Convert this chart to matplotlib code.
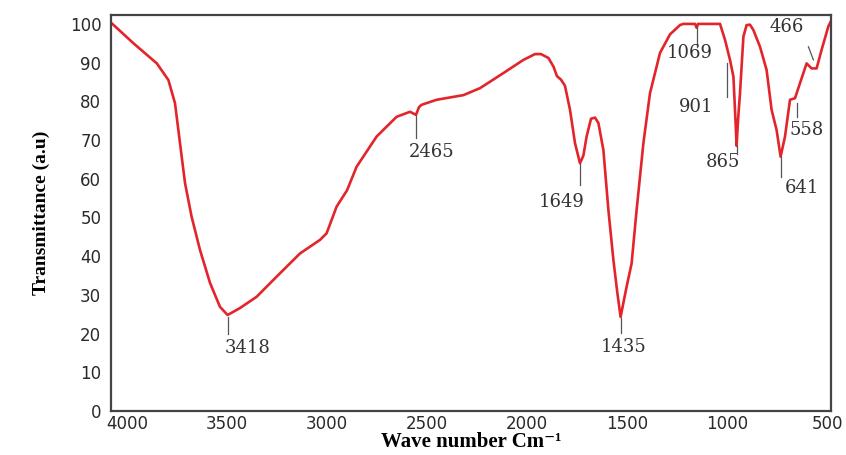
import matplotlib
matplotlib.use("Agg")
import matplotlib.pyplot as plt

# Spectrum (wavenumber, transmittance)
wavenumber = [4073, 3970, 3851, 3793, 3760, 3735, 3710, 3677, 3635, 3585, 3535, 3497,
              3435, 3352, 3252, 3135, 3035, 3002, 2952, 2900, 2852, 2752, 2652, 2585,
              2555, 2540, 2527, 2452, 2318, 2235, 2118, 2018, 1960, 1930, 1893, 1868,
              1850, 1830, 1810, 1785, 1760, 1735, 1718, 1702, 1680, 1660, 1643, 1618,
              1593, 1568, 1548, 1532, 1502, 1477, 1452, 1418, 1385, 1335, 1285, 1235,
              1218, 1160, 1152, 1145, 1035, 1010, 985, 968, 960, 952, 945, 935, 918,
              902, 885, 868, 835, 802, 777, 752, 732, 710, 685, 660, 635, 602, 577,
              552, 527, 493, 482]
transmittance = [100, 95.1, 89.8, 85.5, 79.5, 69.2, 58.9, 50.2, 41.6, 33.1, 26.9, 24.8,
                 26.6, 29.5, 34.7, 40.7, 44.2, 45.9, 52.8, 57.0, 63.1, 70.9, 76.0, 77.3,
                 76.5, 78.5, 79.1, 80.4, 81.6, 83.4, 87.3, 90.7, 92.2, 92.2, 91.2, 89.0,
                 86.5, 85.6, 84.0, 77.8, 69.2, 64.0, 66.0, 70.9, 75.5, 75.8, 74.4, 67.4,
                 51.9, 39.0, 30.4, 24.3, 32.1, 38.1, 51.9, 69.2, 82.1, 92.5, 97.3, 99.7,
                 100, 100, 99.0, 100, 100, 95.9, 90.7, 86.4, 77.8, 68.5, 75.0, 82.1, 96.7,
                 99.7, 99.8, 98.4, 94.1, 88.1, 77.8, 72.6, 65.7, 70.9, 80.4, 80.8, 84.7,
                 89.8, 88.5, 88.5, 93.3, 99.4, 100.5]

x_ticks = [4000, 3500, 3000, 2500, 2000, 1500, 1000, 500]
y_ticks = [0, 10, 20, 30, 40, 50, 60, 70, 80, 90, 100]

# Peak annotations
peak_labels = ["3418", "2465", "1649", "1435", "1069", "901", "865", "641", "558", "466"]
line_x0 = [3495, 2555, 1735, 1532, 1152, 1002, 952, 732, 651, 593]
line_x1 = [3495, 2555, 1735, 1532, 1152, 1002, 952, 732, 651, 568]
line_y0 = [24.3, 76.3, 63.7, 24.0, 99.5, 90.0, 68.5, 65.5, 79.6, 94.1]
line_y1 = [19.8, 70.5, 58.4, 20.2, 94.1, 81.0, 66.5, 60.5, 76.0, 90.7]
text_x = [3395, 2477, 1827, 1518, 1185, 1152, 1018, 627, 602, 702]
text_y = [16.3, 67.0, 54.1, 16.5, 92.4, 78.6, 64.4, 57.5, 72.6, 99.3]

fig = plt.figure(figsize=(8.46, 4.55), dpi=100)
ax = fig.add_axes([111 / 846, 1 - 411 / 455, 720 / 846, 396 / 455])

ax.plot(wavenumber, transmittance, color="#e3242b", lw=1.9, solid_joinstyle="round")

for lab, xa, xb, ya, yb, tx, ty in zip(peak_labels, line_x0, line_x1, line_y0, line_y1,
                                       text_x, text_y):
    ax.plot([xa, xb], [ya, yb], color="#555555", lw=0.9)
    ax.text(tx, ty, lab, ha="center", va="center", fontsize=13,
            family="DejaVu Serif", color="#333333")

ax.set_xlim(4080, 480)
ax.set_ylim(0, 102.3)
ax.set_xticks(x_ticks)
ax.set_yticks(y_ticks)
ax.tick_params(length=0, labelsize=12, colors="#2a2a2a")
ax.tick_params(axis="x", pad=3)
ax.tick_params(axis="y", pad=7)
for lbl in ax.get_xticklabels() + ax.get_yticklabels():
    lbl.set_family("DejaVu Sans")
for s in ax.spines.values():
    s.set_color("#444444")
    s.set_linewidth(1.6)

ax.set_xlabel("Wave number Cm\u207b\u00b9", family=["Liberation Serif", "DejaVu Serif"],
              fontweight="bold", fontsize=15, labelpad=-1)
ax.set_ylabel("Transmittance (a.u)", family="Liberation Serif", fontweight="bold",
              fontsize=14, labelpad=14)

fig.savefig("out.png", dpi=100)
